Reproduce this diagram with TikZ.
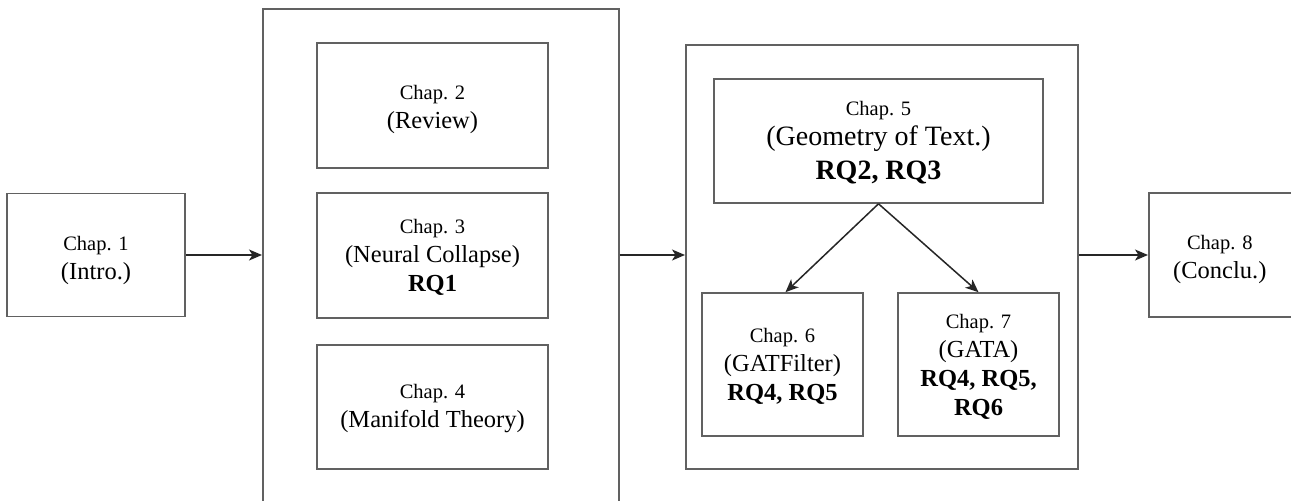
\documentclass[tikz,border=0pt]{standalone}
\usepackage{fontspec}
\setmainfont{Liberation Serif}
\usetikzlibrary{arrows.meta,calc}
\begin{document}
\begin{tikzpicture}[x=1bp,y=-1bp,
  box/.style={draw=black!62,line width=1.6bp,rectangle,inner sep=0pt,fill=white},
  txt/.style={inner sep=0pt,align=center,font=\fontsize{20.5bp}{29bp}\selectfont},
  arr/.style={draw=black!85,line width=1.5bp,-{Stealth[length=13bp,width=11bp,inset=3.5bp]}},
]
\newcommand{\cl}[1]{{\fontsize{20.5bp}{29bp}\selectfont #1}}
\newcommand{\tl}[1]{{\fontsize{24.5bp}{29bp}\selectfont #1}}
\newcommand{\bl}[1]{{\fontsize{24.5bp}{29bp}\selectfont\bfseries #1}}
\newcommand{\tL}[1]{{\fontsize{28bp}{32bp}\selectfont #1}}
\newcommand{\bL}[1]{{\fontsize{28bp}{32bp}\selectfont\bfseries #1}}
\useasboundingbox (0,0) rectangle (1291,501);
\clip (0,0) rectangle (1291,501);
% containers
\node[box,minimum width=356bp,minimum height=520bp,anchor=north west] (left) at (262,8) {};
\node[box,minimum width=392bp,minimum height=424bp,anchor=north west] (right) at (685,44) {};
% chapter boxes
\node[box,minimum width=178bp,minimum height=123bp] (c1) at (96,255) {};
\node[box,minimum width=231bp,minimum height=125bp] (c2) at (432.5,105.5) {};
\node[box,minimum width=231bp,minimum height=125bp] (c3) at (432.5,255.5) {};
\node[box,minimum width=231bp,minimum height=124bp] (c4) at (432.5,407) {};
\node[box,minimum width=329bp,minimum height=124bp] (c5) at (878.5,141) {};
\node[box,minimum width=161bp,minimum height=143bp] (c6) at (782.5,364.5) {};
\node[box,minimum width=161bp,minimum height=143bp] (c7) at (978.5,364.5) {};
\node[box,minimum width=150bp,minimum height=124bp,anchor=west] (c8) at (1148,255) {};
% texts
\node[txt] (t1) at ($(c1.center)+(0,5)$) {\cl{Chap. 1}\\\tl{(Intro.)}};
\node[txt] (t2) at ($(c2.center)+(0,4)$) {\cl{Chap. 2}\\\tl{(Review)}};
\node[txt] (t3) at ($(c3.center)+(0,2)$) {\cl{Chap. 3}\\\tl{(Neural Collapse)}\\\bl{RQ1}};
\node[txt] (t4) at ($(c4.center)+(0,2)$) {\cl{Chap. 4}\\\tl{(Manifold Theory)}};
\node[txt,font=\fontsize{20.5bp}{32bp}\selectfont] (t5) at ($(c5.center)+(0,2)$) {\cl{Chap. 5}\\[-2bp]\tL{(Geometry of Text.)}\\[2bp]\bL{RQ2, RQ3}};
\node[txt] (t6) at ($(c6.center)+(0,2)$) {\cl{Chap. 6}\\\tl{(GATFilter)}\\\bl{RQ4, RQ5}};
\node[txt] (t7) at ($(c7.center)+(0,2)$) {\cl{Chap. 7}\\\tl{(GATA)}\\\bl{RQ4, RQ5,}\\\bl{RQ6}};
\node[txt] (t8) at ($(c8.center)+(-4,4)$) {\cl{Chap. 8}\\\tl{(Conclu.)}};
% connectors
\draw[arr] (c1.east) -- (c1.east -| left.west);
\draw[arr] (left.east |- c1.east) -- (right.west |- c1.east);
\draw[arr] (right.east |- c8.west) -- (c8.west);
\draw[arr] (c5.south) -- ($(c6.north)+(3,0)$);
\draw[arr] (c5.south) -- (c7.north);
\end{tikzpicture}
\end{document}
